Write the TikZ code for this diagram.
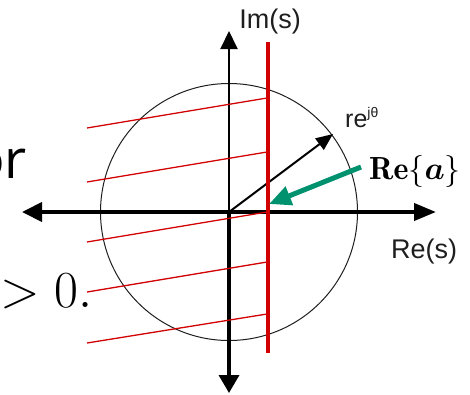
\RequirePackage{fix-cm}
\documentclass[tikz,border=0pt]{standalone}
\usepackage{amsmath,bm}
\usepackage{fontspec}
\newfontfamily\arialf{Liberation Sans}
\newfontfamily\slidef{Open Sans}
\usetikzlibrary{arrows.meta}
\definecolor{redl}{RGB}{210,0,0}
\definecolor{greenl}{RGB}{0,145,110}
\definecolor{axgray}{RGB}{30,30,30}
\tikzset{
  axis/.style={draw=black,line width=4pt},
  hatch/.style={draw=redl,line width=1.3pt},
  lbl/.style={inner sep=0pt,text=axgray,font=\arialf},
}
\begin{document}
\begin{tikzpicture}[x=1pt,y=-1pt]
\useasboundingbox (0,0) rectangle (470,394);
\clip (0,0) rectangle (470,394);
% coordinates
\coordinate (O) at (229,212);
\coordinate (L) at (22,212);
\coordinate (R) at (436,212);
\coordinate (T) at (229,31);
\coordinate (B) at (229,393);
\coordinate (P) at (333,134);
% circle
\node[draw=axgray,circle,line width=1pt,minimum size=257pt,inner sep=0pt] (C) at (O) {};
% axes
\draw[axis,-{Triangle[length=20pt,width=19pt]}] (O) -- (L);
\draw[axis,-{Triangle[length=22pt,width=17pt]}] (O) -- (R);
\draw[draw=black,line width=2pt,-{Triangle[length=18pt,width=17pt]}] (O) -- (T);
\draw[draw=black,line width=3.5pt,-{Triangle[length=18pt,width=20pt]}] (O) -- (B);
% radius arrow
\draw[draw=black,line width=2pt,-{Triangle[length=17pt,width=14pt]}] (O) -- (P);
% red region
\coordinate (h1a) at (87,128); \coordinate (h1b) at (267,98);
\coordinate (h2a) at (87,182); \coordinate (h2b) at (267,152);
\coordinate (h3a) at (87,242); \coordinate (h3b) at (267,212);
\coordinate (h4a) at (87,292); \coordinate (h4b) at (267,262);
\coordinate (h5a) at (87,343); \coordinate (h5b) at (267,314);
\draw[hatch] (h1a) -- (h1b);
\draw[hatch] (h2a) -- (h2b);
\draw[hatch] (h3a) -- (h3b);
\draw[hatch] (h4a) -- (h4b);
\draw[hatch] (h5a) -- (h5b);
\coordinate (Vt) at (268,42);
\coordinate (Vb) at (268,353);
\draw[draw=redl,line width=4pt] (Vt) -- (Vb);
% green arrow
\coordinate (Gs) at (361,167);
\coordinate (Ge) at (269,204);
\draw[draw=greenl,line width=5pt,-{Triangle[length=22pt,width=19pt]}] (Gs) -- (Ge);
% labels
\node[lbl] (im) at (270,22) {\fontsize{27}{27}\selectfont Im(s)};
\node[lbl] (re) at (424,252) {\fontsize{27}{27}\selectfont Re(s)};
\node[lbl,anchor=base west] (rej) at (345,127) {\fontsize{25}{25}\selectfont re\raisebox{10pt}{\fontsize{14}{14}\selectfont jθ}};
\node[inner sep=0pt] (rea) at (415,171) {\fontsize{32}{32}\selectfont $\mathbf{Re}\{\bm{a}\}$};
% cropped slide text
\node[inner sep=0pt,anchor=base east] (or) at (27,178) {\slidef\fontsize{54}{54}\selectfont or};
\node[inner sep=0pt,anchor=base west] (gt) at (0,307) {\fontsize{52}{52}\selectfont $>0.$};
\end{tikzpicture}
\end{document}
